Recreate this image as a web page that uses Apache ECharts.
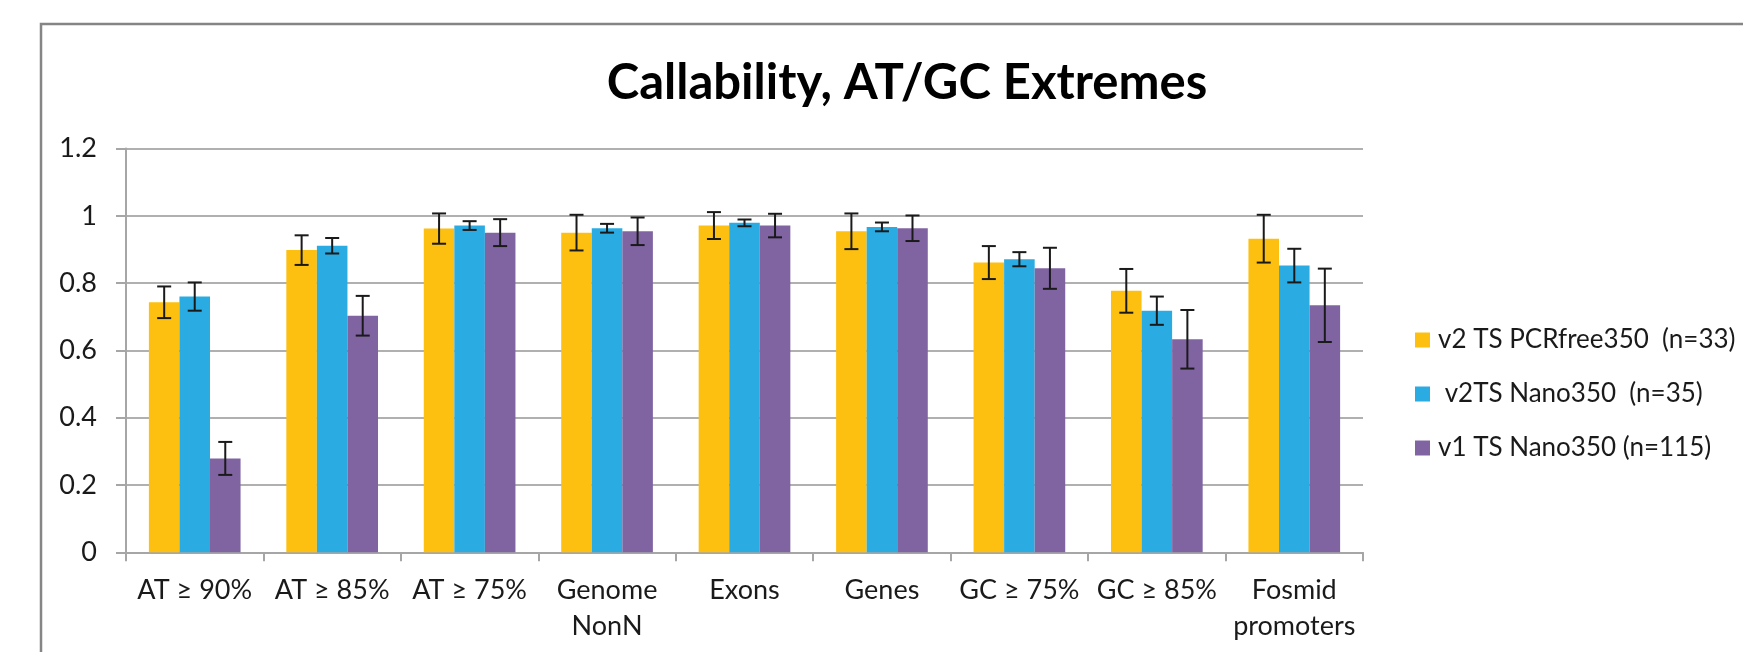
<!DOCTYPE html>
<html>
<head>
<meta charset="utf-8">
<title>Callability, AT/GC Extremes</title>
<script src="https://cdn.jsdelivr.net/npm/echarts@6/dist/echarts.min.js"></script>
<style>
  html, body { margin: 0; padding: 0; background: #ffffff; }
  #chart { width: 1743px; height: 652px; }
</style>
</head>
<body>
<div id="chart"></div>
<script>
// Region categories along the x axis
const categories = ['AT ≥ 90%', 'AT ≥ 85%', 'AT ≥ 75%', 'Genome\nNonN', 'Exons', 'Genes', 'GC ≥ 75%', 'GC ≥ 85%', 'Fosmid\npromoters'];

// Series names (legend text)
const seriesNames = ['v2 TS PCRfree350  (n=33)', ' v2TS Nano350  (n=35)', 'v1 TS Nano350 (n=115)'];

// Mean callability per region
const pcrfree350 = [0.743, 0.898, 0.962, 0.950, 0.971, 0.954, 0.861, 0.777, 0.932];
const nano350v2  = [0.760, 0.911, 0.971, 0.963, 0.979, 0.967, 0.871, 0.718, 0.852];
const nano350v1  = [0.279, 0.703, 0.950, 0.954, 0.971, 0.963, 0.844, 0.633, 0.734];

// Error bar half-widths (+/-)
const pcrfree350Err = [0.047, 0.044, 0.045, 0.053, 0.040, 0.053, 0.049, 0.065, 0.071];
const nano350v2Err  = [0.042, 0.023, 0.013, 0.013, 0.010, 0.013, 0.021, 0.042, 0.050];
const nano350v1Err  = [0.049, 0.059, 0.040, 0.041, 0.035, 0.038, 0.061, 0.087, 0.109];

// Y axis ticks
const yMin = 0, yMax = 1.2, yStep = 0.2;

const colors = ['#FDC010', '#2AABE2', '#8064A2'];
const seriesValues = [pcrfree350, nano350v2, nano350v1];
const seriesErrors = [pcrfree350Err, nano350v2Err, nano350v1Err];

const CATEGORY_GAP = 1 / 3;   // fraction of a category left empty around each bar group
const FONT = 'Lato, "Open Sans", "Noto Sans", sans-serif';

const chart = echarts.init(document.getElementById('chart'), null, { renderer: 'canvas' });

// Error bars drawn next to each bar, positioned from the category band width
function errorBarSeries(idx) {
  const vals = seriesValues[idx];
  const errs = seriesErrors[idx];
  return {
    type: 'custom',
    name: seriesNames[idx] + ' error',
    z: 5,
    silent: true,
    data: vals.map((v, i) => [i, v - errs[i], v + errs[i]]),
    renderItem: function (params, api) {
      const band = api.size([1, 0])[0];
      const barW = band * (1 - CATEGORY_GAP) / seriesValues.length;
      const offset = (idx - (seriesValues.length - 1) / 2) * barW;
      const lo = api.coord([api.value(0), api.value(1)]);
      const hi = api.coord([api.value(0), api.value(2)]);
      const x = lo[0] + offset;
      const cap = 7;
      const style = { stroke: '#1a1a1a', lineWidth: 2, fill: null };
      return {
        type: 'group',
        children: [
          { type: 'line', shape: { x1: x, y1: hi[1], x2: x, y2: lo[1] }, style: style },
          { type: 'line', shape: { x1: x - cap, y1: hi[1], x2: x + cap, y2: hi[1] }, style: style },
          { type: 'line', shape: { x1: x - cap, y1: lo[1], x2: x + cap, y2: lo[1] }, style: style }
        ]
      };
    }
  };
}

const barSeries = seriesValues.map((vals, idx) => ({
  type: 'bar',
  name: seriesNames[idx],
  data: vals,
  barGap: '0%',
  barCategoryGap: (CATEGORY_GAP * 100).toFixed(1) + '%',
  itemStyle: { color: colors[idx] },
  z: 2
}));

const option = {
  animation: false,
  backgroundColor: '#ffffff',
  color: colors,
  title: {
    text: 'Callability, AT/GC Extremes',
    left: 902,
    top: 54,
    textAlign: 'center',
    textStyle: { fontFamily: FONT, fontSize: 49, fontWeight: 'bold', color: '#000000' }
  },
  legend: {
    orient: 'vertical',
    left: 1410,
    top: 320,
    itemWidth: 15,
    itemHeight: 15,
    itemGap: 24,
    icon: 'rect',
    data: seriesNames,
    textStyle: { fontFamily: FONT, fontSize: 26, color: '#1a1a1a', lineHeight: 30, padding: [0, 0, 0, 3] }
  },
  grid: { left: 126, right: 380, top: 148.5, bottom: 99.7, containLabel: false },
  xAxis: {
    type: 'category',
    data: categories,
    axisLine: { show: true, lineStyle: { color: '#a6a6a6', width: 2 } },
    axisTick: { show: true, length: 9, lineStyle: { color: '#a6a6a6', width: 2 } },
    axisLabel: {
      interval: 0,
      margin: 20,
      fontFamily: FONT,
      fontSize: 27,
      lineHeight: 36,
      color: '#1a1a1a'
    }
  },
  yAxis: {
    type: 'value',
    min: yMin,
    max: yMax,
    interval: yStep,
    axisLine: { show: true, lineStyle: { color: '#a6a6a6', width: 2 } },
    axisTick: { show: true, length: 10, lineStyle: { color: '#a6a6a6', width: 2 } },
    splitLine: { show: true, lineStyle: { color: '#b0b0b0', width: 2 } },
    axisLabel: {
      margin: 29,
      fontFamily: FONT,
      fontSize: 27,
      color: '#1a1a1a'
    }
  },
  series: barSeries.concat(seriesValues.map((_, i) => errorBarSeries(i))),
  graphic: [{
    type: 'polyline',
    silent: true,
    shape: { points: [[41, 652], [41, 24], [1743, 24]] },
    style: { stroke: '#858585', lineWidth: 2.5, fill: null }
  }]
};

chart.setOption(option);
</script>
</body>
</html>
